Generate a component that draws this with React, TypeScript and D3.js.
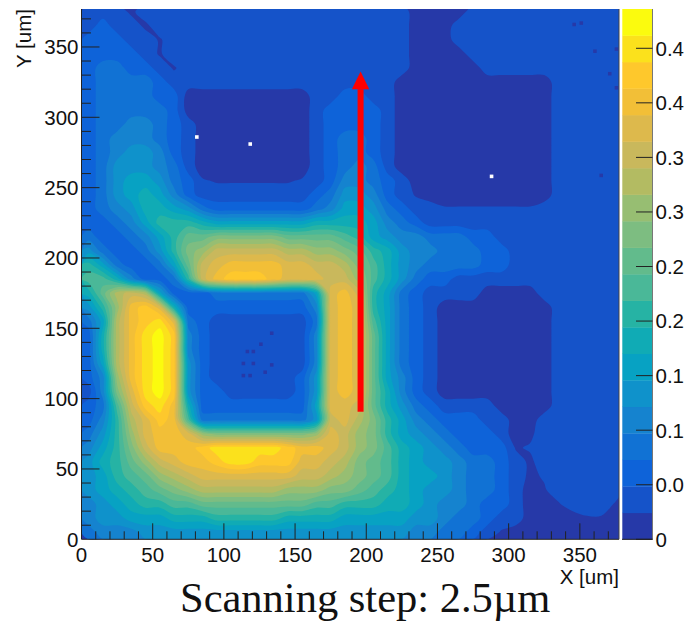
import React from "react";
import * as d3 from "d3";

// Scan map: palette level per 10 um cell. Rows run from Y = 375 um down to Y = 5 um, columns X = 5 .. 375 um.
const signalLevels: number[][] = [
  [1,1,1,0.3,1,1,1,1,1,1,1,1,1,1,1,1,1,1,1,1,1,1,1,0,0,0,0,1,1,1,1,1,1,1,1,1,1,1],
  [1,2,1,1,0.3,1,1,1,1,1,1,1,1,1,1,1,1,1,1,1,1,1,1,0,0,0,1,1,1,1,1,1,1,1,1,1,1,1],
  [2,2,2,1,1,0.4,1,1,1,1,1,1,1,1,1,1,1,1,1,1,1,1,1,0,0,0,1,1,1,1,1,1,1,1,1,1,1,1],
  [2,2,2,2,1,0.4,1,1,1,1,1,1,1,1,1,1,1,1,1,1,1,1,1,0,0,0,0,1,1,1,1,1,1,1,1,1,1,1],
  [2,3,3,2,2,1,0.4,1,1,1,1,1,1,1,1,1,1,1,1,1,1,1,1,0,0,0,0,0,1,1,1,1,1,1,1,1,1,1],
  [2,3,3,3,3,2,1,1,1,1,1,1,1,1,1,1,1,1,1,1,1,1,0,0,0,0,0,0,0,0,0,0,0,1,1,1,1,1],
  [2,3,3,3,3,2,2,0,0,0,0,0,0,0,0,0,1,1,2,2,1,1,0,0,0,0,0,0,0,0,0,0,0,1,1,1,1,1],
  [2,3,3,3,3,3,2,0,0,0,0,0,0,0,0,0,1,2,2,2,2,1,0,0,0,0,0,0,0,0,0,0,0,1,1,1,1,1],
  [2,3,3,4,4,3,2,1,0,0,0,0,0,0,0,0,1,2,2,2,2,1,0,0,0,0,0,0,0,0,0,0,0,1,1,1,1,1],
  [2,3,4,4,4,3,2,1,0,0,0,0,0,0,0,0,1,2,3,3,2,1,0,0,0,0,0,0,0,0,0,0,0,1,1,1,1,1],
  [2,3,4,5,5,4,2,1,0,0,0,0,0,0,0,0,1,2,3,3,2,1,0,0,0,0,0,0,0,0,0,0,0,1,1,1,1,1],
  [2,3,5,5,5,4,3,1,0,0,0,0,0,0,0,0,1,2,3,4,3,1,0,0,0,0,0,0,0,0,0,0,0,1,1,1,1,1],
  [2,3,5,6,6,5,3,2,0.6,0.4,0.4,0.4,0.4,0.4,0.4,0.6,1,2,4,4,3,2,1,0,0,0,0,0,0,0,0,0,0,1,1,1,1,1],
  [2,3,5,6,7,6,4,2,1,1,1,1,1,1,1,1,2,3,5,5,4,2,1,0.4,0,0,0,0,0,0,0,0,0,1,1,1,1,1],
  [2,3,4,5,7,7,6,5,3,2,2,2,2,2,2,2,3,4,6,6,5,3,2,1,1,0.6,0.6,0.6,0.6,0.6,0.6,0.6,1,1,1,1,1,1],
  [2,2,3,4,6,8,8,8,7,6,6,6,6,6,6,6,7,7,7,7,6,4,3,2,1,1,1,1,1,1,1,1,1,1,1,1,1,1],
  [3,2,2,3,4,6,8,10,10,11,11,11,11,11,10,10,10,10,9,8,6,5,4,4,3,3,3,2,2,1,1,1,1,1,1,1,1,1],
  [5,3,2,2,3,5,8,11,12,14,14,14,14,14,13,13,12,12,11,10,8,7,5,4,4,3,3,3,2,2,1,1,1,1,1,1,1,1],
  [8,6,3,2,2,3,6,10,14,15,16,16,16,16,15,15,14,14,13,11,9,7,5,4,3,3,3,3,2,2,1,1,1,1,1,1,1,1],
  [9,9,7,4,2,2,3,8,14,16,17,17,17,16,15,15,15,14,14,12,9,7,5,3,2,2,1,1,1,1,1,1,1,1,1,1,1,1],
  [7,10,13,14,13,6,2,2,2,3,3,3,3,3,3,3,6,15,16,14,8,6,3,2,1,1,1,1,0,0,0,0,1,1,1,1,1,1],
  [5,8,12,16,17,15,7,2,2,2,2,2,2,2,2,2,4,15,16,15,8,6,3,2,1,0,0,0,0,0,0,0,0,1,1,1,1,1],
  [3,6,13,16,17,18,15,3,2,1,1,1,1,1,1,1,3,15,16,15,9,6,3,2,1,0,0,0,0,0,0,0,0,1,1,1,1,1],
  [2,7,13,16,18,19,17,4,2,1,1,1,1,1,1,1,4,15,16,15,10,6,3,2,1,0,0,0,0,0,0,0,0,1,1,1,1,1],
  [2,7,13,16,18,19,17,4,2,1,1,1,1,1,1,1,4,15,16,15,10,6,3,2,1,0,0,0,0,0,0,0,0,1,1,1,1,1],
  [2,6,13,16,18,19,17,5,2,1,1,1,1,1,1,1,4,15,16,15,10,6,3,2,1,0,0,0,0,0,0,0,0,1,1,1,1,1],
  [2,4,12,16,18,19,17,5,2,1,1,1,1,1,1,2,5,15,16,15,10,6,4,2,1,0,0,0,0,0,0,0,0,1,1,1,1,1],
  [1,4,11,15,18,19,17,5,2,2,1,1,1,1,1,2,5,15,16,15,10,7,4,2,1,0,0,0,0,0,0,0,0,1,1,1,1,1],
  [2,3,9,14,17,18,16,7,2,2,2,2,2,2,2,2,6,15,15,14,10,7,5,3,2,1,1,1,1,0,0,0,0,1,1,1,1,1],
  [2,4,8,13,15,17,16,9,3,3,3,3,3,3,3,3,5,14,15,13,11,8,6,4,3,2,2,2,1,1,0,0,1,1,1,1,1,1],
  [3,5,8,12,15,16,16,15,12,11,11,11,11,11,11,11,12,15,14,12,11,8,6,5,4,3,2,2,2,1,0,0.3,1,1,1,1,1,1],
  [4,6,8,11,14,16,16,16,17,18,18,18,18,18,17,16,16,15,14,12,11,9,7,6,5,4,3,2,2,2,0.4,0.6,1,1,1,1,1,1],
  [5,7,8,10,12,14,15,16,16,17,18,18,17,17,17,15,15,14,13,11,10,9,7,6,5,5,4,3,3,2,1,0.3,1,1,1,1,1,1],
  [5,6,8,9,10,12,13,14,15,15,15,15,15,15,15,14,14,13,12,11,10,9,7,6,6,5,4,3,3,2,1,0.3,0.6,1,1,1,1,1],
  [5,6,7,8,9,10,11,12,13,13,13,13,13,13,12,12,12,11,11,10,9,8,7,6,5,5,4,3,3,2,1,0,0.4,1,1,1,1,1],
  [4,5,6,7,8,8,9,9,10,10,10,10,10,10,10,10,9,9,8,8,8,7,7,6,5,4,4,3,2,2,1,0,0,0.4,1,1,1,0.4],
  [4,5,5,6,6,6,7,7,7,8,8,8,8,8,7,7,7,7,6,6,6,6,6,5,5,4,3,3,2,1,1,0,0,0,0,0.4,0.4,0],
  [3,4,4,4,5,5,5,5,5,5,5,5,5,5,5,5,5,5,5,5,5,5,5,4,4,3,3,2,1,0.4,0,0,0,0,0,0,0,0],
];

const cellSizeUm = 10;
const paletteColors = ["#2639a8","#1553c9","#0e63d9","#1172d4","#1583cf","#0f92cb","#07a2c3","#10abb5","#26b3a4","#4ab898","#62bb8c","#7dbd81","#97be72","#b3bb62","#c9b85c","#ddb94c","#f2bf37","#fec82c","#fbe11c","#fbfb0e"];
const xMajorTicks = [0,50,100,150,200,250,300,350];
const yMajorTicks = [0,50,100,150,200,250,300,350];
const minorTicks = [10,20,30,40,60,70,80,90,110,120,130,140,160,170,180,190,210,220,230,240,260,270,280,290,310,320,330,340,360,370];
const barTickValues = [0,0.05,0.1,0.15,0.2,0.25,0.3,0.35,0.4,0.45];
const barTickLabels = ["0","0.0","0.1","0.1","0.2","0.2","0.3","0.3","0.4","0.4"];
const barMax = 0.486;
const deadPixels: [number, number][] = [[81,286],[118.5,281],[288,258]];
const lowSpecks: [number, number][] = [[133.6,146.5],[126,138.7],[116.5,133.5],[120.7,133.5],[113.7,125],[120.7,125],[133.6,124],[129,118.8],[113.7,116.4],[118.4,116.4],[351,367],[346,366],[360.6,347],[375.7,348.5],[371,331],[375.7,321],[365,258.7]];
const arrowX = 196;
const arrowFrom = 90.7;
const arrowHeadBase = 320;
const arrowTip = 332.6;

const L = 81.5, R = 619, T = 9, B = 539.3;
const sans = "'Liberation Sans', Helvetica, Arial, sans-serif";

export default function App() {
  const x = d3.scaleLinear().domain([0, 377.5]).range([L, R]);
  const y = d3.scaleLinear().domain([0, 377]).range([B, T]);
  const bar = d3.scaleLinear().domain([0, barMax]).range([B, T]);

  const ny = signalLevels.length, nx = signalLevels[0].length;
  const flat = signalLevels.flat();
  const thresholds = paletteColors.slice(1).map((_, i) => i + 0.5);
  const bands = d3.contours().size([nx, ny]).thresholds(thresholds)(flat);
  const ringLine = d3.line().curve(d3.curveCatmullRomClosed.alpha(0.5));
  const bandPath = (b: any) =>
    b.coordinates
      .flatMap((polygon: number[][][]) =>
        polygon.map((ring) =>
          ringLine(ring.slice(0, -1).map(([px, py]) => [x(px * cellSizeUm), y((ny - py) * cellSizeUm)] as [number, number]))
        )
      )
      .join("");
  const step = bar(0) - bar(barMax / paletteColors.length);
  const cw = x(2.5) - x(0), ch = y(0) - y(2.5);

  return (
    <svg width={690} height={622} style={{ position: "absolute", left: 0, top: 0, background: "#fff" }}>
      <defs>
        <clipPath id="plot"><rect x={L} y={T} width={R - L} height={B - T} /></clipPath>
      </defs>
      <g clipPath="url(#plot)">
        <rect x={L} y={T} width={R - L} height={B - T} fill={paletteColors[0]} />
        {bands.map((b, i) => (
          <path key={i} d={bandPath(b)} fill={paletteColors[i + 1]} fillRule="evenodd" />
        ))}
        {lowSpecks.map(([a, c], i) => (
          <rect key={i} x={x(a) - cw / 2} y={y(c) - ch / 2} width={cw} height={ch} fill={paletteColors[0]} />
        ))}
        {deadPixels.map(([a, c], i) => (
          <rect key={i} x={x(a) - 1.8} y={y(c) - 1.8} width={3.6} height={3.6} fill="#fff" />
        ))}
      </g>
      {/* frame */}
      <g stroke="#222" fill="none" strokeWidth={1}>
        <line x1={L} x2={L} y1={T} y2={B} />
        <line x1={L} x2={R} y1={B} y2={B} />
        <line x1={R} x2={R} y1={T} y2={B} stroke="#444" />
        {yMajorTicks.slice(1).map((t) => <line key={t} x1={L} x2={L + 18} y1={y(t)} y2={y(t)} />)}
        {minorTicks.map((t) => <line key={t} x1={L} x2={L + 9.5} y1={y(t)} y2={y(t)} />)}
        {xMajorTicks.slice(1).map((t) => <line key={t} x1={x(t)} x2={x(t)} y1={B} y2={B - 16} />)}
        {minorTicks.map((t) => <line key={t} x1={x(t)} x2={x(t)} y1={B} y2={B - 8} />)}
      </g>
      <g fontFamily={sans} fontSize={20.5} fill="#111">
        {yMajorTicks.map((t) => (
          <text key={t} x={L - 3} y={y(t)} dy="0.36em" textAnchor="end">{t}</text>
        ))}
        {xMajorTicks.map((t) => (
          <text key={t} x={x(t)} y={562} textAnchor="middle">{t}</text>
        ))}
        <text x={R} y={584} textAnchor="end">X [um]</text>
        <text transform="translate(31,9) rotate(-90)" textAnchor="end">Y [um]</text>
      </g>
      {/* colour bar */}
      <g>
        {paletteColors.map((c, i) => (
          <rect key={c} x={622.3} y={bar(i * barMax / paletteColors.length) - step} width={30} height={step + 0.3} fill={c} />
        ))}
        <line x1={652.5} x2={652.5} y1={T} y2={B} stroke="#777" />
        <line x1={622} x2={652.5} y1={B} y2={B} stroke="#222" />
        {barTickValues.map((t) => (
          <line key={t} x1={636} x2={652.5} y1={bar(t)} y2={bar(t)} stroke="#222" />
        ))}
        {barTickValues.map((t, i) => (
          <text key={t} x={655.5} y={bar(t)} dy="0.36em" fontFamily={sans} fontSize={20.5} fill="#111">{barTickLabels[i]}</text>
        ))}
      </g>
      {/* arrow */}
      <rect x={x(arrowX) - 3} y={y(arrowHeadBase)} width={6} height={y(arrowFrom) - y(arrowHeadBase)} fill="#ff0000" />
      <polygon
        points={`${x(arrowX)},${y(arrowTip)} ${x(arrowX) + 8.7},${y(arrowHeadBase)} ${x(arrowX) - 8.7},${y(arrowHeadBase)}`}
        fill="#ff0000"
      />
      <text x={180} y={612} fontFamily="'Liberation Serif', 'Times New Roman', serif" fontSize={42.5} fill="#111">Scanning step: 2.5µm</text>
    </svg>
  );
}
